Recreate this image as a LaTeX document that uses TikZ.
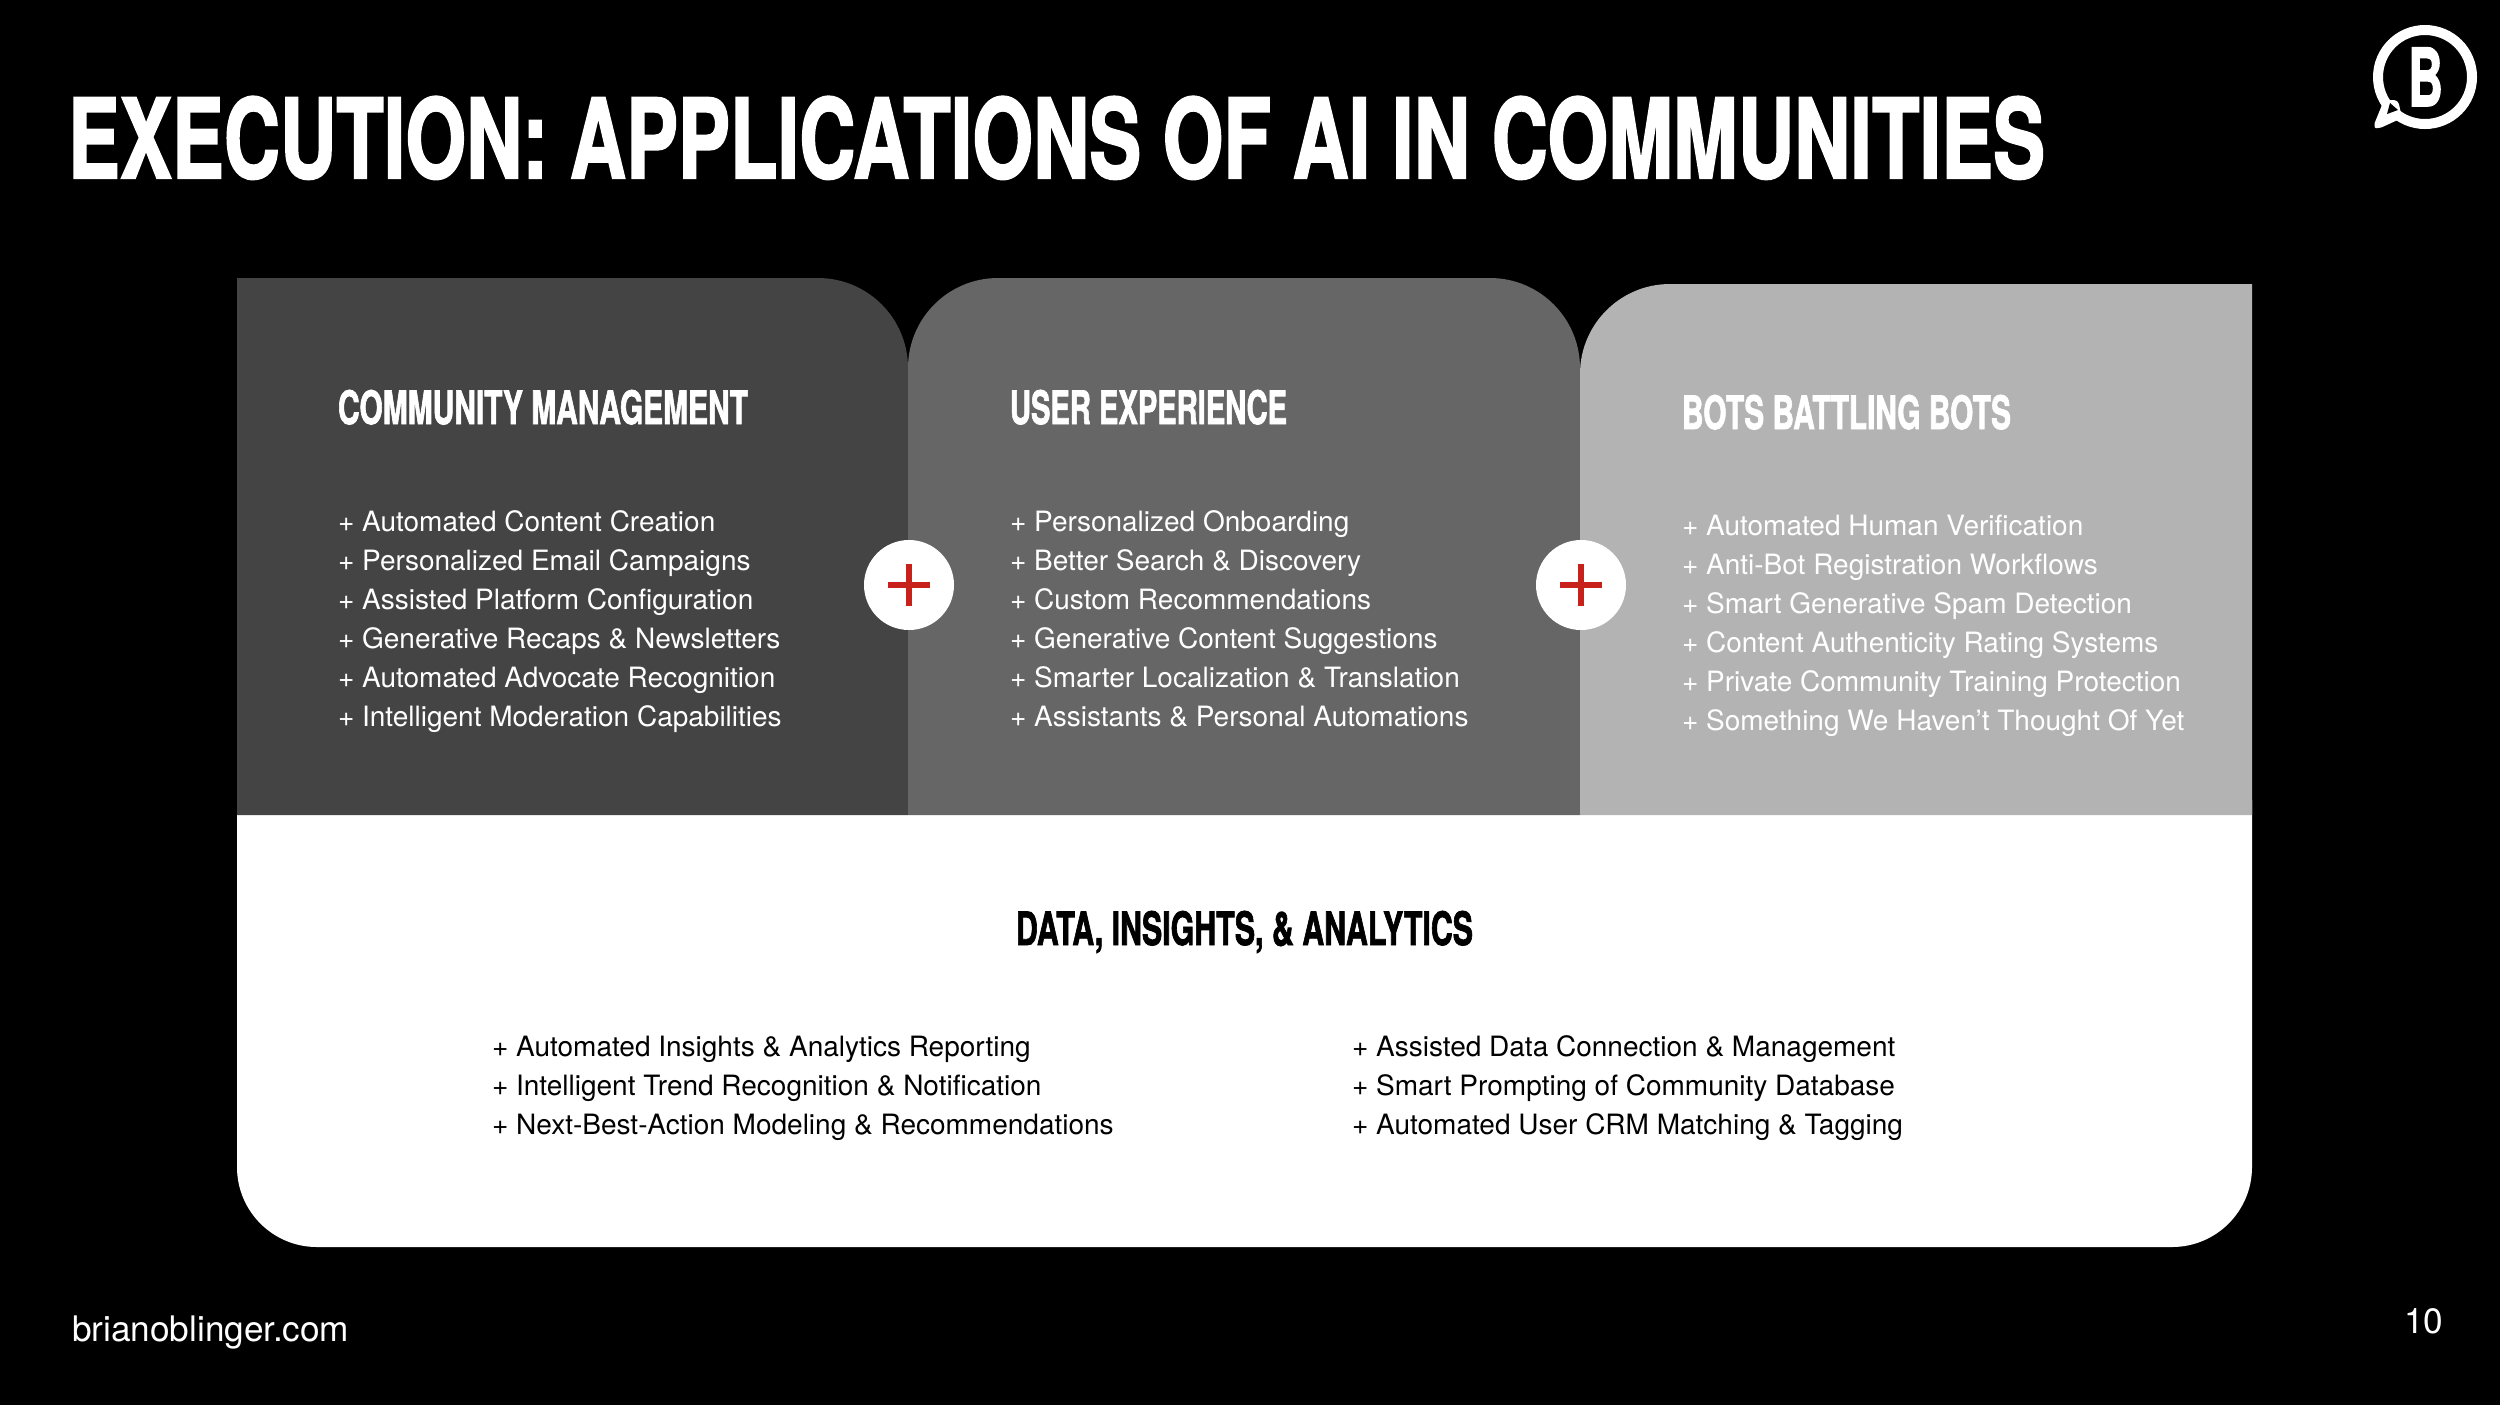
\documentclass[tikz,border=0pt]{standalone}
\usepackage{fontspec}
\usepackage{graphicx}
\setmainfont{TeX Gyre Heros}
\newfontfamily\heavy[FakeBold=2]{TeX Gyre Heros Bold}
\definecolor{panela}{HTML}{444444}
\definecolor{panelb}{HTML}{666666}
\definecolor{panelc}{HTML}{B3B3B3}
\definecolor{plusred}{HTML}{C8201A}
\newcommand{\fitw}[2]{\resizebox{#1}{\height}{#2}}
\tikzset{
  x=0.5pt,y=-0.5pt,
  txt/.style={inner sep=0,outer sep=0,anchor=base west,text=white,font=\fontsize{14}{18}\selectfont},
  dark/.style={txt,text=black},
  head/.style={inner sep=0,outer sep=0,anchor=base west,text=white,font=\heavy\fontsize{23}{26}\selectfont},
  darkhead/.style={head,text=black},
  ttl/.style={inner sep=0,outer sep=0,anchor=base west,text=white,font=\heavy\fontsize{55}{60}\selectfont},
  plusdisc/.style={circle,fill=white,minimum size=45pt,inner sep=0,outer sep=0},
  plusbar/.style={draw=plusred,line width=2.6pt}
}
\begin{document}
\begin{tikzpicture}
\useasboundingbox (0,0) rectangle (2500,1405);
\fill[black] (0,0) rectangle (2500,1405);
% panels
\fill[white] (237,800) -- (2252,800) -- (2252,1167) arc[start angle=0,end angle=-90,x radius=80,y radius=-80] -- (317,1247) arc[start angle=270,end angle=180,x radius=80,y radius=-80] -- cycle;
\fill[panela] (237,278) -- (818,278) arc[start angle=90,end angle=0,x radius=90,y radius=-90] -- (908,815) -- (237,815) -- cycle;
\fill[panelb] (908,815) -- (908,368) arc[start angle=180,end angle=90,x radius=90,y radius=-90] -- (1490,278) arc[start angle=90,end angle=0,x radius=90,y radius=-90] -- (1580,815) -- cycle;
\fill[panelc] (1580,815) -- (1580,374) arc[start angle=180,end angle=90,x radius=90,y radius=-90] -- (2252,284) -- (2252,815) -- cycle;
% title
\node[ttl] (title) at (68,178) {\fitw{988.5pt}{EXECUTION: APPLICATIONS OF AI IN COMMUNITIES}};
% logo
\draw[white,line width=5pt] (2425,77) circle[radius=47];
\fill[white,rounded corners=2pt] (2384,100) -- (2373,127) -- (2378,129) -- (2402,118) -- (2398,100) -- cycle;
\fill[black] (2390,103) -- (2387,114) -- (2398,110) -- cycle;
\node[inner sep=0,outer sep=0,anchor=base west,text=white,font=\heavy\fontsize{40}{40}\selectfont] (logoB) at (2408,106) {\fitw{17.5pt}{B}};
% headings
\node[head] (h1) at (338,424) {\fitw{205pt}{COMMUNITY MANAGEMENT}};
\node[head] (h2) at (1010,424) {\fitw{138.5pt}{USER EXPERIENCE}};
\node[head] (h3) at (1682,429) {\fitw{164.5pt}{BOTS BATTLING BOTS}};
\node[darkhead] (h4) at (1016,945) {\fitw{228.5pt}{DATA, INSIGHTS, \& ANALYTICS}};
% column 1
\node[txt] (a1) at (338,531) {+ Automated Content Creation};
\node[txt] (a2) at (338,570) {+ Personalized Email Campaigns};
\node[txt] (a3) at (338,609) {+ Assisted Platform Configuration};
\node[txt] (a4) at (338,648) {+ Generative Recaps \& Newsletters};
\node[txt] (a5) at (338,687) {+ Automated Advocate Recognition};
\node[txt] (a6) at (338,726) {+ Intelligent Moderation Capabilities};
% column 2
\node[txt] (b1) at (1010,531) {+ Personalized Onboarding};
\node[txt] (b2) at (1010,570) {+ Better Search \& Discovery};
\node[txt] (b3) at (1010,609) {+ Custom Recommendations};
\node[txt] (b4) at (1010,648) {+ Generative Content Suggestions};
\node[txt] (b5) at (1010,687) {+ Smarter Localization \& Translation};
\node[txt] (b6) at (1010,726) {+ Assistants \& Personal Automations};
% column 3
\node[txt] (c1) at (1682,535) {+ Automated Human Verification};
\node[txt] (c2) at (1682,574) {+ Anti-Bot Registration Workflows};
\node[txt] (c3) at (1682,613) {+ Smart Generative Spam Detection};
\node[txt] (c4) at (1682,652) {+ Content Authenticity Rating Systems};
\node[txt] (c5) at (1682,691) {+ Private Community Training Protection};
\node[txt] (c6) at (1682,730) {+ Something We Haven’t Thought Of Yet};
% data
\node[dark] (d1) at (492,1056) {+ Automated Insights \& Analytics Reporting};
\node[dark] (d2) at (492,1095) {+ Intelligent Trend Recognition \& Notification};
\node[dark] (d3) at (492,1134) {+ Next-Best-Action Modeling \& Recommendations};
\node[dark] (e1) at (1352,1056) {+ Assisted Data Connection \& Management};
\node[dark] (e2) at (1352,1095) {+ Smart Prompting of Community Database};
\node[dark] (e3) at (1352,1134) {+ Automated User CRM Matching \& Tagging};
% plus discs
\node[plusdisc] (p1) at (909,585) {};
\node[plusdisc] (p2) at (1581,585) {};
\draw[plusbar] (888,585) -- (930,585);
\draw[plusbar] (909,564) -- (909,606);
\draw[plusbar] (1560,585) -- (1602,585);
\draw[plusbar] (1581,564) -- (1581,606);
% footer
\node[txt,font=\fontsize{17.6}{20}\selectfont] (site) at (72,1341) {brianoblinger.com};
\node[txt,font=\fontsize{17.6}{20}\selectfont] (page) at (2404,1333) {10};
\end{tikzpicture}
\end{document}
